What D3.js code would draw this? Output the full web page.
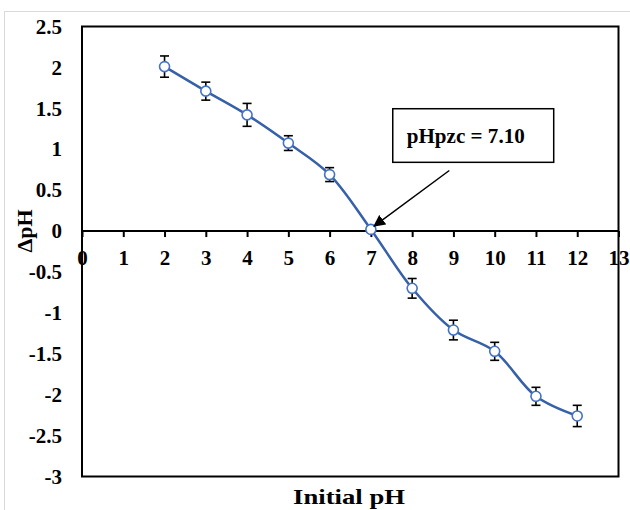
<!DOCTYPE html>
<html>
<head>
<meta charset="utf-8">
<script src="https://cdn.jsdelivr.net/npm/d3@7"></script>
<style>
  body { margin: 0; background: #fff; }
  text { font-family: "Liberation Serif", "Times New Roman", serif; font-weight: bold; fill: #000; }
</style>
</head>
<body>
<div id="chart"></div>
<script>
// values
const initialPH = [2, 3, 4, 5, 6, 7, 8, 9, 10, 11, 12];
const deltaPH = [2.01, 1.71, 1.42, 1.075, 0.69, 0.02, -0.70, -1.21, -1.47, -2.02, -2.26];
const errorPH = [0.13, 0.11, 0.14, 0.09, 0.085, 0.03, 0.12, 0.12, 0.11, 0.11, 0.13];
const xTicks = d3.range(0, 14, 1);
const yTicks = [2.5, 2, 1.5, 1, 0.5, 0, -0.5, -1, -1.5, -2, -2.5, -3];
const pzcLabel = 'pHpzc = 7.10';
const pzcValue = 7.03;

const W = 630, H = 510;
const box = { left: 82, right: 618.5, top: 26.5, bottom: 476.5 };

const svg = d3.select('#chart').append('svg')
  .attr('width', W).attr('height', H);

// faint outer chart-area border
svg.append('rect')
  .attr('x', 4.5).attr('y', 11.5)
  .attr('width', 700).attr('height', 600)
  .attr('fill', 'none').attr('stroke', '#d9d9d9');

const x = d3.scaleLinear().domain([0, 13]).range([box.left, box.right]);
const y = d3.scaleLinear().domain([-3, 2.5]).range([box.bottom, box.top]);

// excel style: plain hyphen for negatives
const fmt = d => String(d);

// plot frame
svg.append('rect')
  .attr('x', box.left).attr('y', box.top)
  .attr('width', box.right - box.left).attr('height', box.bottom - box.top)
  .attr('fill', 'none').attr('stroke', '#000').attr('stroke-width', 2);

// y labels
const yAxis = d3.axisLeft(y).tickValues(yTicks).tickSize(0).tickPadding(20).tickFormat(fmt);
const gy = svg.append('g').attr('transform', `translate(${box.left},0)`).call(yAxis);
gy.select('.domain').remove();
gy.selectAll('text').style('font-size', '21px').attr('fill', '#000');

// x axis through y = 0
const xAxis = d3.axisBottom(x).tickValues(xTicks).tickSize(6).tickPadding(13).tickFormat(fmt);
const gx = svg.append('g').attr('transform', `translate(0,${y(0)})`).call(xAxis);
gx.select('.domain').attr('stroke-width', 2).attr('d', `M${box.left},0H${box.right}`);
gx.selectAll('line').attr('stroke-width', 2);
gx.selectAll('text').style('font-size', '21px').attr('fill', '#000');

// axis titles
svg.append('text')
  .attr('x', 349).attr('y', 504)
  .attr('text-anchor', 'middle').style('font-size', '22px')
  .attr('textLength', 112).attr('lengthAdjust', 'spacingAndGlyphs')
  .text('Initial pH');
svg.append('text')
  .attr('transform', `translate(32,${y(0)}) rotate(-90)`)
  .attr('text-anchor', 'middle').style('font-size', '22px')
  .text('ΔpH');

const pts = initialPH.map((v, i) => ({ x: v, y: deltaPH[i], e: errorPH[i] }));

// error bars
const eb = svg.append('g').attr('stroke', '#000').attr('stroke-width', 1.6);
pts.forEach(d => {
  eb.append('line').attr('x1', x(d.x)).attr('x2', x(d.x)).attr('y1', y(d.y - d.e)).attr('y2', y(d.y + d.e));
  [d.y - d.e, d.y + d.e].forEach(v => {
    eb.append('line').attr('x1', x(d.x) - 4.5).attr('x2', x(d.x) + 4.5).attr('y1', y(v)).attr('y2', y(v));
  });
});

// smoothed line
const line = d3.line().x(d => x(d.x)).y(d => y(d.y)).curve(d3.curveCatmullRom.alpha(0.5));
svg.append('path').datum(pts)
  .attr('d', line).attr('fill', 'none')
  .attr('stroke', '#3660A8').attr('stroke-width', 2.5);

// markers
svg.append('g').selectAll('circle').data(pts).join('circle')
  .attr('cx', d => x(d.x)).attr('cy', d => y(d.y)).attr('r', 5)
  .attr('fill', '#fff').attr('stroke', '#4472C4').attr('stroke-width', 1.6);

// annotation box + arrow
const defs = svg.append('defs');
defs.append('marker').attr('id', 'arrow')
  .attr('viewBox', '0 0 10 10').attr('refX', 9).attr('refY', 5)
  .attr('markerWidth', 8).attr('markerHeight', 8).attr('orient', 'auto')
  .append('path').attr('d', 'M0,0L10,5L0,10z').attr('fill', '#000');

svg.append('rect')
  .attr('x', x(7.53)).attr('y', y(1.495))
  .attr('width', x(11.43) - x(7.53)).attr('height', y(0.84) - y(1.495))
  .attr('fill', '#fff').attr('stroke', '#000').attr('stroke-width', 1.5);
svg.append('text')
  .attr('x', x(7.53) + 14).attr('y', y(1.495) + 34)
  .style('font-size', '20px')
  .attr('textLength', 118).attr('lengthAdjust', 'spacingAndGlyphs')
  .text(pzcLabel);
svg.append('line')
  .attr('x1', x(8.9)).attr('y1', y(0.74))
  .attr('x2', x(pzcValue) + 2).attr('y2', y(0.06))
  .attr('stroke', '#000').attr('stroke-width', 1.5)
  .attr('marker-end', 'url(#arrow)');
</script>
</body>
</html>
